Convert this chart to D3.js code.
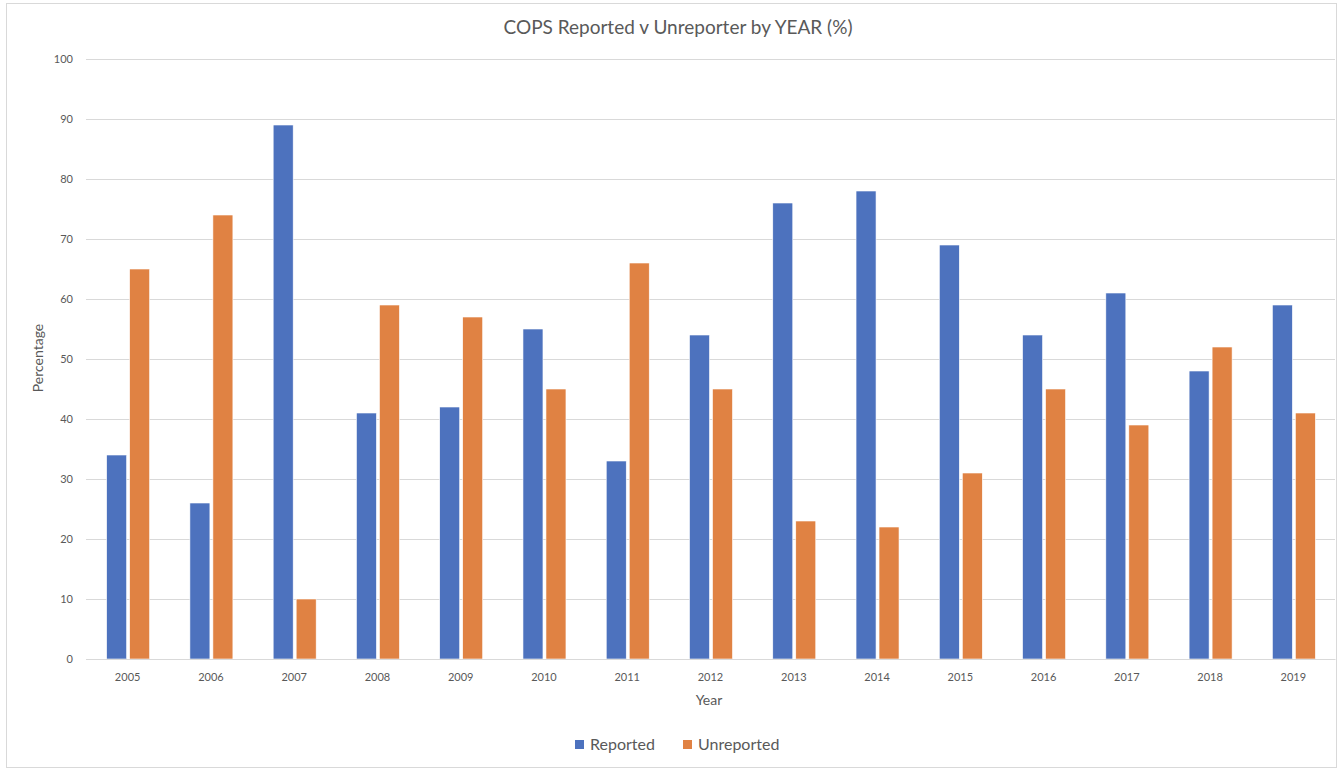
<!DOCTYPE html>
<html>
<head>
<meta charset="utf-8">
<script src="https://cdn.jsdelivr.net/npm/d3@7"></script>
<style>
  html, body { margin: 0; padding: 0; background: #fff; }
  svg { display: block; font-family: Lato, "Open Sans", sans-serif; }
</style>
</head>
<body>
<svg id="chart" width="1338" height="769"></svg>
<script>
const years = ["2005","2006","2007","2008","2009","2010","2011","2012","2013","2014","2015","2016","2017","2018","2019"];
const reported   = [34, 26, 89, 41, 42, 55, 33, 54, 76, 78, 69, 54, 61, 48, 59];
const unreported = [65, 74, 10, 59, 57, 45, 66, 45, 23, 22, 31, 45, 39, 52, 41];
const seriesNames = ["Reported", "Unreported"];
const seriesColors = ["#4D72BE", "#E08243"];
const yTicks = [0,10,20,30,40,50,60,70,80,90,100];
const title = "COPS Reported v Unreporter by YEAR (%)";

const svg = d3.select("#chart");
const plotL = 86, plotR = 1335, plotT = 59, plotB = 659;

// chart frame
svg.append("rect").attr("x", 6.5).attr("y", 3.5).attr("width", 1330).attr("height", 764)
  .attr("fill", "#fff").attr("stroke", "#d9d9d9").attr("stroke-width", 1);

const x0 = d3.scaleBand().domain(years).range([plotL, plotR]).paddingInner(0).paddingOuter(0);
const x1 = d3.scaleBand().domain(seriesNames).range([x0.bandwidth()/2 - 21, x0.bandwidth()/2 + 22]).paddingInner(0.13);
const y = d3.scaleLinear().domain([0, 100]).range([plotB, plotT]);

// gridlines
const grid = svg.append("g").attr("class", "grid");
grid.selectAll("line").data(yTicks).join("line")
  .attr("x1", plotL).attr("x2", plotR)
  .attr("y1", d => Math.round(y(d)) + 0.5).attr("y2", d => Math.round(y(d)) + 0.5)
  .attr("stroke", "#d9d9d9").attr("stroke-width", 1);

// y axis labels
const yAxis = d3.axisLeft(y).tickValues(yTicks).tickSize(0).tickPadding(0);
const yg = svg.append("g").attr("transform", `translate(${plotL - 13},0)`).call(yAxis);
yg.select(".domain").remove();
yg.selectAll("text").attr("fill", "#595959").style("font-size", "11px").style("font-family", "Lato, sans-serif");

// bars
const data = years.map((yr, i) => ({ year: yr, values: [reported[i], unreported[i]] }));
const groups = svg.append("g").selectAll("g").data(data).join("g")
  .attr("transform", d => `translate(${x0(d.year)},0)`);
groups.selectAll("rect").data(d => d.values.map((v, j) => ({ v, s: seriesNames[j], c: seriesColors[j] })))
  .join("rect")
  .attr("x", d => x1(d.s))
  .attr("width", x1.bandwidth())
  .attr("y", d => y(d.v))
  .attr("height", d => plotB - y(d.v))
  .attr("fill", d => d.c)
  .attr("stroke", "#fff").attr("stroke-width", 0.6);

// x axis
const xAxis = d3.axisBottom(x0).tickSize(0).tickPadding(0);
const xg = svg.append("g").attr("transform", `translate(0,${plotB})`).call(xAxis);
xg.select(".domain").attr("stroke", "#d9d9d9");
xg.selectAll("text").attr("dy", "0").attr("y", 22).attr("fill", "#595959")
  .style("font-size", "11px").style("font-family", "Lato, sans-serif");

// title
svg.append("text").attr("x", 678).attr("y", 34).attr("text-anchor", "middle")
  .attr("fill", "#595959").style("font-size", "19px").text(title);

// axis titles
svg.append("text").attr("x", 709).attr("y", 705).attr("text-anchor", "middle")
  .attr("fill", "#595959").style("font-size", "14px").text("Year");
svg.append("text").attr("transform", "translate(43,358) rotate(-90)").attr("text-anchor", "middle")
  .attr("fill", "#595959").style("font-size", "14px").text("Percentage");

// legend
const legendItems = [{ name: seriesNames[0], color: seriesColors[0], x: 575 }, { name: seriesNames[1], color: seriesColors[1], x: 683 }];
const lg = svg.append("g");
lg.selectAll("rect").data(legendItems).join("rect")
  .attr("x", d => d.x).attr("y", 740).attr("width", 9).attr("height", 9).attr("fill", d => d.color);
lg.selectAll("text").data(legendItems).join("text")
  .attr("x", d => d.x + 15).attr("y", 750).attr("fill", "#595959").style("font-size", "16px")
  .text(d => d.name);
</script>
</body>
</html>
